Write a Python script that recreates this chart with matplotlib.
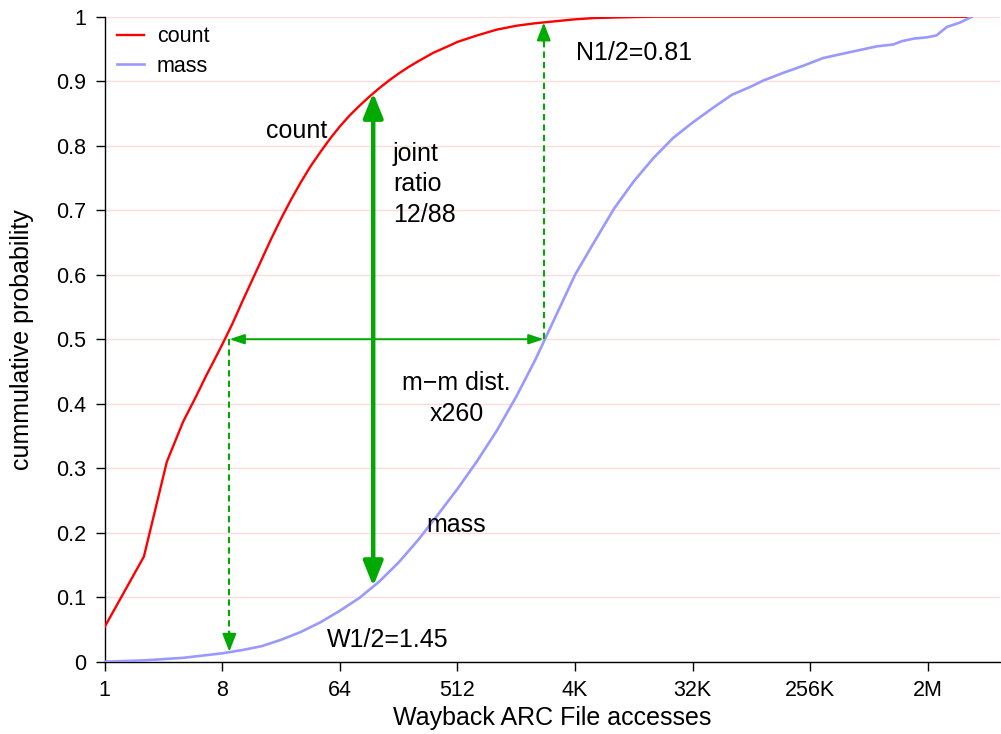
import matplotlib
matplotlib.use('Agg')
import matplotlib.pyplot as plt

plt.rcParams['font.family'] = ['Liberation Sans', 'DejaVu Sans']

# ---- data (x given as log2 of the number of accesses) ----
count_log2 = [0, 1, 1.585, 2, 2.32, 2.585, 2.807, 3.0, 3.25, 3.5, 3.75, 4.0, 4.25, 4.5,
              4.75, 5.0, 5.25, 5.5, 5.75, 6.0, 6.25, 6.5, 6.75, 7.0, 7.25, 7.5, 7.75, 8.0,
              8.38, 8.75, 9.0, 9.5, 10.0, 10.5, 11.0, 11.5, 12.0, 12.5, 13.0, 13.5, 14.0,
              22.12]
count_cdf = [0.054, 0.163, 0.31, 0.372, 0.41, 0.443, 0.469, 0.492, 0.523, 0.557, 0.590,
             0.623, 0.656, 0.687, 0.716, 0.743, 0.768, 0.790, 0.811, 0.830, 0.847, 0.862,
             0.876, 0.889, 0.901, 0.912, 0.922, 0.931, 0.944, 0.954, 0.961, 0.971, 0.980,
             0.986, 0.990, 0.993, 0.996, 0.998, 0.9988, 0.9995, 1.0, 1.0]

mass_log2 = [0, 1, 2, 3, 3.5, 4, 4.5, 5, 5.5, 6, 6.5, 7, 7.5, 8, 8.5, 9, 9.5, 10, 10.5,
             11, 11.5, 12, 12.5, 13, 13.5, 14, 14.5, 15, 15.5, 16, 16.46, 16.8, 17.31,
             17.82, 18.33, 18.93, 19.69, 20.12, 20.33, 20.63, 20.97, 21.22, 21.48, 21.82,
             22.12]
mass_cdf = [0.0, 0.002, 0.006, 0.013, 0.018, 0.024, 0.034, 0.046, 0.061, 0.079, 0.099,
            0.124, 0.154, 0.189, 0.228, 0.268, 0.311, 0.358, 0.411, 0.470, 0.535, 0.600,
            0.652, 0.703, 0.745, 0.781, 0.812, 0.836, 0.858, 0.879, 0.891, 0.901, 0.913,
            0.924, 0.936, 0.944, 0.954, 0.957, 0.962, 0.966, 0.968, 0.971, 0.984, 0.991,
            1.0]

xtick_vals = [1, 8, 64, 512, 4096, 32768, 262144, 2097152]
xtick_labels = ['1', '8', '64', '512', '4K', '32K', '256K', '2M']
ytick_vals = [0, 0.1, 0.2, 0.3, 0.4, 0.5, 0.6, 0.7, 0.8, 0.9, 1.0]
ytick_labels = ['0', '0.1', '0.2', '0.3', '0.4', '0.5', '0.6', '0.7', '0.8', '0.9', '1']

# annotation anchors (log2 x, cdf y)
joint_x = 6.85
joint_lo, joint_hi = 0.117, 0.882
half_left_x, half_right_x = 3.18, 11.2
w_half_y, n_half_y = 0.0155, 0.991

count_x = [2 ** v for v in count_log2]
mass_x = [2 ** v for v in mass_log2]

GREEN = '#00aa00'

fig = plt.figure(figsize=(10.01, 7.34), dpi=100)
ax = fig.add_axes([0.1046, 0.0985, 0.8944, 0.8787])
ax.set_xscale('log', base=2)

ax.plot(count_x, count_cdf, color='#ff0000', lw=1.7, label='count', zorder=3)
ax.plot(mass_x, mass_cdf, color='#9999ff', lw=1.9, label='mass', zorder=3)

ax.set_xlim(1, 2 ** 22.84)
ax.set_ylim(0, 1)
ax.set_xticks(xtick_vals)
ax.set_xticklabels(xtick_labels)
ax.xaxis.set_minor_locator(matplotlib.ticker.NullLocator())
ax.set_yticks(ytick_vals)
ax.set_yticklabels(ytick_labels)
ax.tick_params(direction='out', length=6.5, width=1, labelsize=15.5, pad=7, colors='black')

ax.yaxis.grid(True, color='#ffdcdc', lw=1)
ax.set_axisbelow(True)
for s in ['top', 'right']:
    ax.spines[s].set_visible(False)
for s in ['left', 'bottom']:
    ax.spines[s].set_linewidth(1)

ax.set_xlabel('Wayback ARC File accesses', fontsize=18)
ax.xaxis.set_label_coords(0.5, -0.068)
ax.set_ylabel('cummulative probability', fontsize=18)
ax.yaxis.set_label_coords(-0.079, 0.5)

ax.legend(loc='upper left', frameon=False, fontsize=15.5, handlelength=1.25,
          handletextpad=0.6, labelspacing=0.4, bbox_to_anchor=(0.003, 1.0),
          borderaxespad=0.05)

# thick double arrow (joint ratio)
ax.annotate('', xy=(2 ** joint_x, joint_hi), xytext=(2 ** joint_x, joint_lo),
            arrowprops=dict(arrowstyle='<|-|>,head_length=0.75,head_width=0.3',
                            mutation_scale=20, color=GREEN, lw=3.2,
                            shrinkA=0, shrinkB=0), zorder=4)
# horizontal thin double arrow at 0.5
ax.annotate('', xy=(2 ** half_right_x, 0.5), xytext=(2 ** half_left_x, 0.5),
            arrowprops=dict(arrowstyle='<|-|>,head_length=0.9,head_width=0.3',
                            mutation_scale=10, color=GREEN, lw=1.4,
                            shrinkA=0, shrinkB=0), zorder=4)
# dashed arrows
ax.plot([2 ** half_left_x, 2 ** half_left_x], [0.5, w_half_y + 0.02], ls=(0, (3, 2)),
        color=GREEN, lw=1.5, zorder=4)
ax.annotate('', xy=(2 ** half_left_x, w_half_y), xytext=(2 ** half_left_x, w_half_y + 0.03),
            arrowprops=dict(arrowstyle='-|>,head_length=0.9,head_width=0.35',
                            mutation_scale=12, color=GREEN, lw=1.5,
                            shrinkA=0, shrinkB=0), zorder=4)
ax.plot([2 ** half_right_x, 2 ** half_right_x], [0.5, n_half_y - 0.02], ls=(0, (3, 2)),
        color=GREEN, lw=1.5, zorder=4)
ax.annotate('', xy=(2 ** half_right_x, n_half_y), xytext=(2 ** half_right_x, n_half_y - 0.03),
            arrowprops=dict(arrowstyle='-|>,head_length=0.9,head_width=0.35',
                            mutation_scale=12, color=GREEN, lw=1.5,
                            shrinkA=0, shrinkB=0), zorder=4)

# texts
TFS = 18
ax.text(2 ** 4.9, 0.823, 'count', fontsize=TFS, ha='center', va='center')
ax.text(2 ** 7.35, 0.74, 'joint\nratio\n12/88', fontsize=TFS, ha='left', va='center',
        linespacing=1.35)
ax.text(2 ** 12.02, 0.944, 'N1/2=0.81', fontsize=TFS, ha='left', va='center')
ax.text(2 ** 8.98, 0.408, 'm\u2212m dist.\nx260', fontsize=TFS, ha='center', va='center',
        linespacing=1.35)
ax.text(2 ** 8.96, 0.212, 'mass', fontsize=TFS, ha='center', va='center')
ax.text(2 ** 5.66, 0.034, 'W1/2=1.45', fontsize=TFS, ha='left', va='center')

fig.savefig('out.png', dpi=100)
